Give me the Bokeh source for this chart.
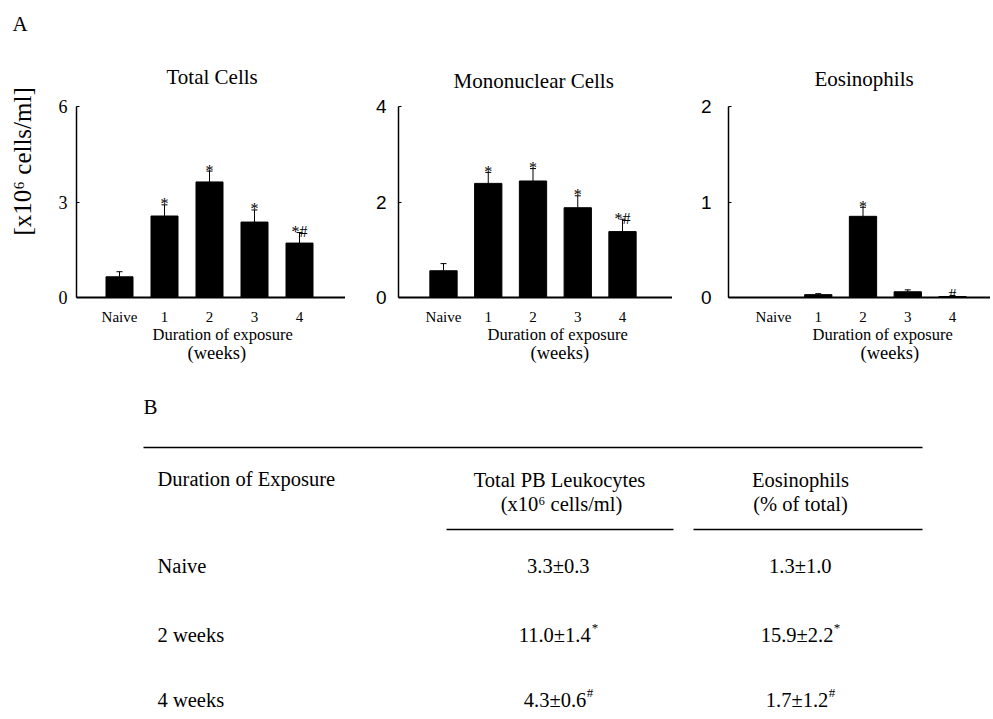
from bokeh.plotting import figure
from bokeh.models import ColumnDataSource, Range1d, FixedTicker, Whisker, TeeHead, Title
from bokeh.layouts import column, row
from bokeh.embed import file_html
from bokeh.resources import INLINE
from bokeh.core.properties import value

# ---------------- data ----------------
groups = ["Naive", "1", "2", "3", "4"]

total_title = "Total Cells"
total_mean = [0.65, 2.56, 3.63, 2.37, 1.71]
total_sem = [0.16, 0.35, 0.34, 0.38, 0.33]
total_sig = ["", "*", "*", "*", "*#"]
total_ticks = [0, 3, 6]

mono_title = "Mononuclear Cells"
mono_mean = [0.56, 2.39, 2.44, 1.88, 1.38]
mono_sem = [0.15, 0.23, 0.26, 0.25, 0.26]
mono_sig = ["", "*", "*", "*", "*#"]
mono_ticks = [0, 2, 4]

eos_title = "Eosinophils"
eos_mean = [0.0, 0.03, 0.85, 0.06, 0.01]
eos_sem = [0.0, 0.01, 0.095, 0.02, 0.01]
eos_sig = ["", "", "*", "", "#"]
eos_ticks = [0, 1, 2]

panel_label_a = "A"
panel_label_b = "B"
y_label = "[x10\u2076 cells/ml]"
x_label_1 = "Duration of exposure"
x_label_2 = "(weeks)"

# table B
tbl_col0_head = "Duration of Exposure"
tbl_col1_head = ["Total PB Leukocytes", "(x10\u2076 cells/ml)"]
tbl_col2_head = ["Eosinophils", "(% of total)"]
tbl_rows = ["Naive", "2 weeks", "4 weeks"]
tbl_pb = ["3.3\u00b10.3", "11.0\u00b11.4", "4.3\u00b10.6"]
tbl_pb_sig = ["", "*", "#"]
tbl_eos = ["1.3\u00b11.0", "15.9\u00b12.2", "1.7\u00b11.2"]
tbl_eos_sig = ["", "*", "#"]

SERIF = "Liberation Serif"
SANS = "Liberation Sans"

FIG_H = 372
FRAME_TOP = 106
ZERO = 297  # page y of the zero line


def title_obj(text, size, left_off, standoff, align="left"):
    return Title(text=text, align=align, offset=left_off, text_font=SERIF,
                 text_font_size=size, text_font_style="normal",
                 text_color="black", standoff=standoff)


def make_chart(fig_left, fig_w, frame_left, first_center, ppx,
               ymax, ticks, mean, sem, sig, title, title_left, title_sd,
               tick_font, tick_size, tick_standoff, xl_left, bar_w):
    frame_right = fig_left + fig_w
    xs = -(first_center - frame_left) / ppx
    xe = xs + (frame_right - frame_left) / ppx
    p = figure(width=fig_w, height=FIG_H, x_range=Range1d(xs, xe),
               y_range=Range1d(0, ymax), output_backend="svg",
               toolbar_location=None, min_border_left=frame_left - fig_left,
               min_border_right=0, min_border_top=FRAME_TOP,
               min_border_bottom=FIG_H - ZERO)
    p.outline_line_color = None
    p.grid.visible = False
    p.background_fill_color = "white"
    p.border_fill_color = "white"
    p.title.text = ""
    p.title.standoff = 0

    p.add_layout(title_obj(title, "21px", title_left - frame_left, title_sd), "above")

    top = [m + s for m, s in zip(mean, sem)]
    src = ColumnDataSource(dict(x=list(range(len(groups))), mean=mean,
                                top=top, sig=sig))
    p.vbar(x="x", top="mean", width=bar_w, source=src, fill_color="black",
           line_color="black", line_width=1)
    p.add_layout(Whisker(base="x", lower="mean", upper="top", source=src,
                         dimension="height", lower_head=None,
                         upper_head=TeeHead(size=6, line_color="black", line_width=1),
                         line_color="black", line_width=1))
    p.text(x="x", y="top", text="sig", source=src,
           text_font=value(SERIF), text_font_size="16px",
           text_align="center", text_baseline="alphabetic", y_offset=-1,
           text_color="black")

    # axes
    p.yaxis.ticker = FixedTicker(ticks=ticks)
    p.yaxis.major_label_text_font = tick_font
    p.yaxis.major_label_text_font_size = tick_size
    p.yaxis.major_label_text_color = "black"
    p.yaxis.major_tick_in = 3
    p.yaxis.major_tick_out = 0
    p.yaxis.minor_tick_line_color = None
    p.yaxis.axis_line_width = 1.5
    p.yaxis.axis_line_color = "black"
    p.yaxis.major_tick_line_color = "black"
    p.yaxis.major_label_standoff = tick_standoff

    p.xaxis.ticker = FixedTicker(ticks=list(range(len(groups))))
    p.xaxis.major_label_overrides = {i: g for i, g in enumerate(groups)}
    p.xaxis.major_label_text_font = SERIF
    p.xaxis.major_label_text_font_size = "15px"
    p.xaxis.major_label_text_color = "black"
    p.xaxis.major_tick_in = 0
    p.xaxis.major_tick_out = 0
    p.xaxis.minor_tick_line_color = None
    p.xaxis.major_tick_line_color = None
    p.xaxis.axis_line_width = 2
    p.xaxis.axis_line_color = "black"
    p.xaxis.major_label_standoff = 11

    p.add_layout(title_obj(x_label_1, "16.5px", xl_left[0] - frame_left, -10.5), "below")
    p.add_layout(title_obj(x_label_2, "18.5px", xl_left[1] - frame_left, 3.5), "below")
    return p


p1 = make_chart(0, 345, 76, 119, 45.0, 6, total_ticks, total_mean,
                total_sem, total_sig, total_title, 166, 36, SERIF,
                "18px", 9, (152, 187), 0.6)
p1.title.text = panel_label_a
p1.title.align = "left"
p1.title.offset = 12 - 76
p1.title.text_font = SERIF
p1.title.text_font_size = "21px"
p1.title.text_font_style = "normal"
p1.title.text_color = "black"
p1.title.standoff = 17
# blank spacer keeps the rotated y title clear of the tick labels
p1.yaxis.axis_label = " "
p1.yaxis.axis_label_text_font_size = "10px"
p1.yaxis.axis_label_standoff = 0
p1.add_layout(title_obj(y_label, "25px", ZERO - 235, 12), "left")

p2 = make_chart(345, 327, 398, 443, 44.75, 4, mono_ticks, mono_mean,
                mono_sem, mono_sig, mono_title, 453, 27, SANS,
                "19px", 12, (487, 530), 0.61)

p3 = make_chart(672, 318, 728, 773, 44.75, 2, eos_ticks, eos_mean,
                eos_sem, eos_sig, eos_title, 814, 31, SANS,
                "19px", 17, (812, 860), 0.61)

# ---------------- table B ----------------
T_TOP = FIG_H
T_H = 719 - T_TOP
pt = figure(width=990, height=T_H, x_range=Range1d(0, 990),
            y_range=Range1d(T_TOP + T_H, T_TOP), output_backend="svg",
            toolbar_location=None, x_axis_location=None, y_axis_location=None,
            min_border=0)
pt.outline_line_color = None
pt.grid.visible = False

FS = "20.5px"
em = 20.5
# approximate Times advance widths (em units)
W = {".": .25, "\u00b1": .564}


def tw(s):
    return sum(W.get(c, .5) for c in s) * em


def ttext(x, y, text, size=FS, align="left"):
    pt.text(x=[x], y=[y], text=[text], text_font=value(SERIF),
            text_font_size=size, text_align=align, text_baseline="middle",
            text_color="black")


ttext(143, 406, panel_label_b, "21px")
pt.segment(x0=[143, 446, 693], y0=[447, 529, 529], x1=[922, 673, 922],
           y1=[447, 529, 529], line_color="black", line_width=1.6)
ttext(157, 478, tbl_col0_head)
ttext(559, 479, tbl_col1_head[0], align="center")
ttext(561, 503, tbl_col1_head[1], align="center")
ttext(800, 479, tbl_col2_head[0], align="center")
ttext(800, 503, tbl_col2_head[1], align="center")

row_y = [565, 634, 699]
SUP = 13.0
for i, ry in enumerate(row_y):
    ttext(157, ry, tbl_rows[i])
    for cx, vals, sigs in ((558, tbl_pb, tbl_pb_sig), (800, tbl_eos, tbl_eos_sig)):
        v = vals[i]
        s = sigs[i]
        mw = tw(v)
        sw = 0.5 * SUP if s else 0.0
        left = cx - (mw + sw) / 2
        ttext(left, ry, v)
        if s:
            ttext(left + mw, ry - 7, s, size="13px")

layout = column(row(p1, p2, p3), pt)
open("out.html", "w").write(file_html(layout, INLINE))
